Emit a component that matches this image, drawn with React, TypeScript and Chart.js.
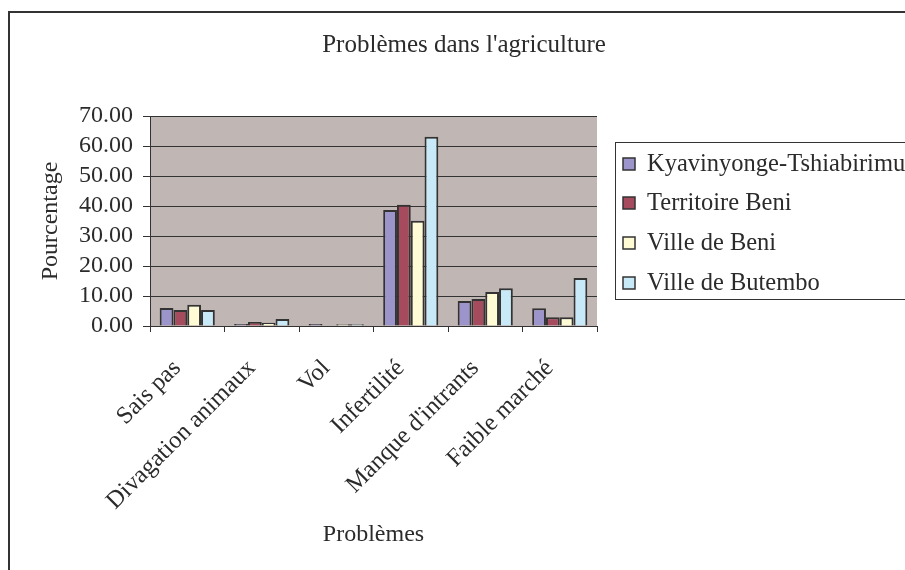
import React, { useEffect, useRef } from "react";
import { Chart, registerables } from "chart.js";

Chart.register(...registerables);

const chartTitle = "Problèmes dans l'agriculture";
const categories = ["Sais pas", "Divagation animaux", "Vol", "Infertilité", "Manque d'intrants", "Faible marché"];
const seriesNames = ["Kyavinyonge-Tshiabirimu", "Territoire Beni", "Ville de Beni", "Ville de Butembo"];
const kyavinyonge = [6.0, 0.7, 0.7, 38.7, 8.3, 5.9];
const territoireBeni = [5.3, 1.3, 0, 40.4, 9.0, 2.9];
const villeDeBeni = [7.1, 1.1, 0.6, 35.1, 11.3, 2.9];
const villeDeButembo = [5.3, 2.3, 0.6, 63.1, 12.6, 16.0];
const seriesColors = ["#9C95CB", "#A54B5D", "#FFFBD4", "#C8EAF8"];
const yMin = 0;
const yMax = 70;
const yStep = 10;

const FONT = "'Liberation Serif', 'Times New Roman', serif";
const INK = "#2b2b2b";

const decorPlugin = {
  id: "decor",
  beforeDraw(chart: any) {
    const { ctx, chartArea } = chart;
    ctx.save();
    ctx.fillStyle = "#ffffff";
    ctx.fillRect(0, 0, chart.width, chart.height);
    ctx.fillStyle = "#C0B6B3";
    ctx.fillRect(chartArea.left, chartArea.top, chartArea.right - chartArea.left, chartArea.bottom - chartArea.top);
    ctx.strokeStyle = "#333333";
    ctx.lineWidth = 2;
    ctx.strokeRect(9, 12, 1000, 1000);
    ctx.fillStyle = INK;
    ctx.font = `25px ${FONT}`;
    ctx.textAlign = "center";
    ctx.textBaseline = "middle";
    ctx.fillText(chartTitle, 464, 45);
    ctx.restore();
  },
  afterDraw(chart: any) {
    const { ctx } = chart;
    ctx.save();
    ctx.strokeStyle = "#333333";
    ctx.lineWidth = 1;
    ctx.strokeRect(615.5, 142.5, 400, 157);
    ctx.font = `24.5px ${FONT}`;
    ctx.textBaseline = "middle";
    ctx.textAlign = "left";
    const ys = [164, 203, 243, 283];
    chart.data.datasets.forEach((ds: any, i: number) => {
      const y = ys[i];
      ctx.fillStyle = ds.backgroundColor;
      ctx.fillRect(623, y - 6, 12, 12);
      ctx.strokeStyle = "#333333";
      ctx.lineWidth = 1.5;
      ctx.strokeRect(623, y - 6, 12, 12);
      ctx.fillStyle = INK;
      ctx.fillText(ds.label, 647, y + 1);
    });
    ctx.restore();
  },
};

export default function App() {
  const ref = useRef<HTMLCanvasElement | null>(null);
  useEffect(() => {
    if (!ref.current) return;
    const data = [kyavinyonge, territoireBeni, villeDeBeni, villeDeButembo];
    const chart = new Chart(ref.current, {
      type: "bar",
      data: {
        labels: categories,
        datasets: seriesNames.map((name, i) => ({
          label: name,
          data: data[i],
          backgroundColor: seriesColors[i],
          borderColor: "#333333",
          borderWidth: 2,
          categoryPercentage: 0.74,
          barPercentage: 1,
        })),
      },
      plugins: [decorPlugin],
      options: {
        responsive: false,
        animation: false,
        devicePixelRatio: 1,
        layout: { padding: { left: 0, top: 116, right: 308, bottom: 0 } },
        plugins: {
          legend: { display: false },
          tooltip: { enabled: false },
          title: { display: false },
        },
        scales: {
          x: {
            type: "category",
            offset: true,
            afterFit: (s: any) => {
              s.height = 244;
            },
            grid: {
              display: true,
              drawOnChartArea: false,
              offset: true,
              color: "#333333",
              tickLength: 6,
              tickWidth: 1,
            },
            border: { display: true, color: "#333333", width: 1 },
            ticks: {
              minRotation: 45,
              maxRotation: 45,
              autoSkip: false,
              padding: 22,
              labelOffset: -10,
              color: INK,
              font: { family: FONT, size: 24.5 },
            },
            title: {
              display: true,
              text: "Problèmes",
              color: INK,
              font: { family: FONT, size: 24 },
              padding: { top: 0, bottom: 20.6 },
            },
          },
          y: {
            min: yMin,
            max: yMax,
            afterFit: (s: any) => {
              s.width = 150;
            },
            grid: {
              color: "#333333",
              lineWidth: 1,
              tickLength: 7,
            },
            border: { display: true, color: "#333333", width: 1 },
            ticks: {
              stepSize: yStep,
              autoSkip: false,
              padding: 10,
              color: INK,
              font: { family: FONT, size: 24 },
              callback: (v: any) => Number(v).toFixed(2),
            },
            title: {
              display: true,
              text: "Pourcentage",
              color: INK,
              font: { family: FONT, size: 24 },
              padding: { top: 36, bottom: 0 },
            },
          },
        },
      },
    });
    return () => chart.destroy();
  }, []);
  return (
    <div style={{ position: "absolute", left: 0, top: 0, width: 905, height: 570, overflow: "hidden" }}>
      <canvas ref={ref} width={905} height={570} style={{ display: "block", width: 905, height: 570 }} />
    </div>
  );
}
